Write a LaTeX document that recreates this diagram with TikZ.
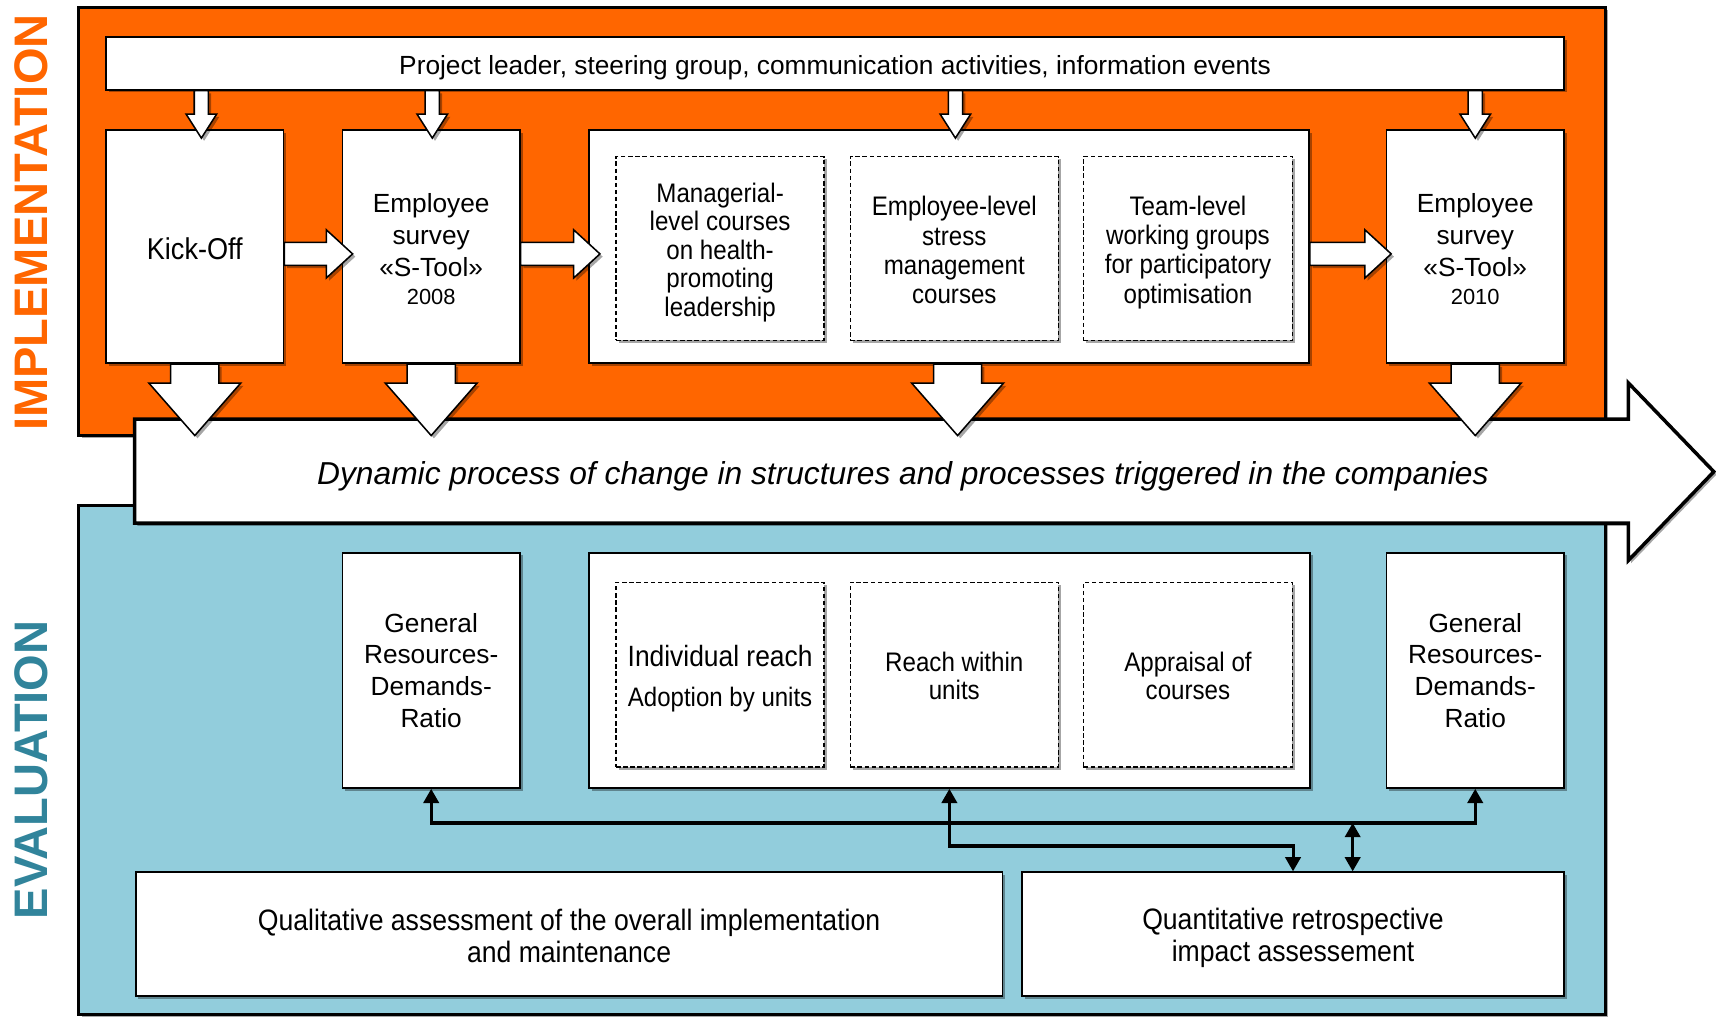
\documentclass[tikz,border=0pt]{standalone}
\usepackage{fontspec}
\setmainfont{Liberation Sans}
\newfontfamily\narrowfont{Liberation Sans}[FakeStretch=0.9]
\usetikzlibrary{calc,shadows,arrows.meta}

\definecolor{implorange}{HTML}{FF6600}
\definecolor{evalfill}{HTML}{92CDDC}
\definecolor{evaltext}{HTML}{31849B}

\tikzset{
  softshadow/.style={drop shadow={shadow xshift=2.5pt, shadow yshift=-2.5pt, opacity=0.35, fill=black}},
  frame/.style={draw=black, line width=3pt, softshadow},
  wbox/.style={draw=black, fill=white, line width=1.6pt, inner sep=0pt, softshadow},
  dbox/.style={draw=black, fill=white, line width=1.3pt, dash pattern=on 4pt off 2.5pt,
               inner sep=0pt, softshadow},
  lbl/.style={align=center, inner sep=0pt},
  blk/.style={draw=black, fill=white, line width=1.4pt, line join=miter, softshadow},
  tip/.tip={Triangle[width=14pt,length=13pt]},
  dconn/.style={line width=2.8pt, tip-tip},
  txt/.style={font=\fontsize{24}{29}\selectfont},
  ntxt/.style={font=\narrowfont\fontsize{24.5}{26}\selectfont},
  ntxtb/.style={font=\narrowfont\fontsize{24.5}{26.7}\selectfont},
  wtxt/.style={font=\narrowfont\fontsize{27}{29}\selectfont},
}

% vertical block arrow: #1 start, #2 tip, #3 shaft half width, #4 head half width, #5 head length
\newcommand{\blockdown}[5]{%
  \draw[blk] ($(#1)+(-#3,0)$) -- ($(#2)+(-#3,-#5)$) -- ($(#2)+(-#4,-#5)$) -- (#2)
    -- ($(#2)+(#4,-#5)$) -- ($(#2)+(#3,-#5)$) -- ($(#1)+(#3,0)$) -- cycle;}
% horizontal block arrow: #1 start, #2 tip, #3 shaft half height, #4 head half height, #5 head length
\newcommand{\blockright}[5]{%
  \draw[blk] ($(#1)+(0,-#3)$) -- ($(#2)+(-#5,-#3)$) -- ($(#2)+(-#5,-#4)$) -- (#2)
    -- ($(#2)+(-#5,#4)$) -- ($(#2)+(-#5,#3)$) -- ($(#1)+(0,#3)$) -- cycle;}

\begin{document}
\begin{tikzpicture}[x=1pt, y=-1pt]
\useasboundingbox (0,0) rectangle (1568,929);

% side titles
\node[rotate=90, font=\fontsize{43}{43}\selectfont\bfseries, text=implorange]
  (implttl) at (28.5,203.5) {IMPLEMENTATION};
\node[rotate=90, font=\fontsize{43}{43}\selectfont\bfseries, text=evaltext]
  (evalttl) at (28.5,703.5) {EVALUATION};

% the two phase frames
\draw[frame, fill=implorange] (72,7) rectangle (1467,398);
\draw[frame, fill=evalfill] (72,462) rectangle (1467,927);

% the process arrow across both phases
\draw[draw=black, fill=white, line width=3.2pt, line join=miter, softshadow]
  (123,383) -- (1488,383) -- (1488,350) -- (1566,431) -- (1488,512) -- (1488,478) -- (123,478) -- cycle;
\node[font=\fontsize{29}{32}\selectfont\itshape] (proc) at (825,435)
  {Dynamic process of change in structures and processes triggered in the companies};

% implementation boxes
\node[wbox, minimum width=1332pt, minimum height=48pt] (pl) at (763,58) {};
\node[lbl, font=\fontsize{24}{28}\selectfont] (plt) at (763,62)
  {Project leader, steering group, communication activities, information events};

\node[wbox, minimum width=162pt, minimum height=213pt] (ko) at (178,225.5) {};
\node[lbl, font=\narrowfont\fontsize{27.5}{29}\selectfont] (kot) at (178,227.5) {Kick-Off};

\node[wbox, minimum width=162pt, minimum height=213pt] (es1) at (394,225.5) {};
\node[lbl, txt] (es1t) at (394,228)
  {Employee\\survey\\«S-Tool»\\[-3pt]{\fontsize{20}{22}\selectfont 2008}};

\node[wbox, minimum width=658pt, minimum height=213pt] (mid) at (867,225.5) {};
\node[dbox, minimum width=190pt, minimum height=168pt] (d1) at (658,227) {};
\node[lbl, ntxt] (d1t) at (658,230.5)
  {Managerial-\\level courses\\on health-\\promoting\\leadership};
\node[dbox, minimum width=190pt, minimum height=168pt] (d2) at (872,227) {};
\node[lbl, ntxtb] (d2t) at (872,228.5)
  {Employee-level\\stress\\management\\courses};
\node[dbox, minimum width=191pt, minimum height=168pt] (d3) at (1085.5,227) {};
\node[lbl, ntxtb] (d3t) at (1085.5,230.5)
  {Team-level\\working groups\\for participatory\\optimisation};

\node[wbox, minimum width=162pt, minimum height=213pt] (es2) at (1348,225.5) {};
\node[lbl, txt] (es2t) at (1348,228)
  {Employee\\survey\\«S-Tool»\\[-3pt]{\fontsize{20}{22}\selectfont 2010}};

% arrows from the steering level down to the steps
\coordinate (a1) at ($(ko.north)+(6,0)$);
\coordinate (a2) at ($(es1.north)+(1,0)$);
\coordinate (a3) at ($(mid.north)+(6,0)$);
\coordinate (a4) at (es2.north);
\blockdown{a1 |- pl.south}{$(a1)+(0,8)$}{6.5}{14}{22}
\blockdown{a2 |- pl.south}{$(a2)+(0,8)$}{6.5}{14}{22}
\blockdown{a3 |- pl.south}{$(a3)+(0,8)$}{6.5}{14}{22}
\blockdown{a4 |- pl.south}{$(a4)+(0,8)$}{6.5}{14}{22}

% arrows between the steps
\coordinate (r0) at (0,232);
\blockright{ko.east |- r0}{$(es1.west |- r0)+(10,0)$}{10.5}{22}{24}
\blockright{es1.east |- r0}{$(mid.west |- r0)+(11,0)$}{10.5}{22}{24}
\blockright{mid.east |- r0}{$(es2.west |- r0)+(5,0)$}{10.5}{22}{24}

% steps feeding the process of change
\coordinate (b3) at ($(mid.south)+(8,0)$);
\blockdown{ko.south}{ko.south |- 0,398}{22}{42}{48}
\blockdown{es1.south}{es1.south |- 0,398}{22}{42}{48}
\blockdown{b3}{b3 |- 0,398}{22}{42}{48}
\blockdown{es2.south}{es2.south |- 0,398}{22}{42}{48}

% evaluation boxes
\node[wbox, minimum width=162pt, minimum height=215pt] (grl) at (394,612.5) {};
\node[lbl, txt] (grlt) at (394,612.5) {General\\Resources-\\Demands-\\Ratio};
\node[wbox, minimum width=659pt, minimum height=215pt] (emid) at (867.5,612.5) {};
\node[dbox, minimum width=190pt, minimum height=169pt] (e1) at (658,616.5) {};
\node[lbl] (e1t) at (658,620)
  {{\narrowfont\fontsize{26.8}{29}\selectfont Individual reach}\\[17pt]{\narrowfont\fontsize{24.4}{26}\selectfont Adoption by units}};
\node[dbox, minimum width=190pt, minimum height=169pt] (e2) at (872,616.5) {};
\node[lbl, ntxt] (e2t) at (872,617.5) {Reach within\\units};
\node[dbox, minimum width=191pt, minimum height=169pt] (e3) at (1085.5,616.5) {};
\node[lbl, ntxt] (e3t) at (1085.5,617.5) {Appraisal of\\courses};
\node[wbox, minimum width=162pt, minimum height=215pt] (grr) at (1348,612.5) {};
\node[lbl, txt] (grrt) at (1348,612.5) {General\\Resources-\\Demands-\\Ratio};

\node[wbox, minimum width=792pt, minimum height=113pt] (qual) at (520,853.5) {};
\node[lbl, wtxt] (qualt) at (520,855)
  {Qualitative assessment of the overall implementation\\and maintenance};
\node[wbox, minimum width=495pt, minimum height=113pt] (quant) at (1181.5,853.5) {};
\node[lbl, wtxt] (quantt) at (1181.5,857)
  {Quantitative retrospective\\impact assessement};

% evaluation links
\coordinate (h1) at (0,752);
\coordinate (h2) at (0,773);
\coordinate (j) at (1236,752);
\draw[dconn] (grl.south) -- (grl.south |- h1) -- (grr.south |- h1) -- (grr.south);
\draw[dconn] (emid.south) -- (emid.south |- h2) -- (quant.north |- h2) -- (quant.north);
\draw[dconn] (j) -- (quant.north -| j);
\end{tikzpicture}
\end{document}
